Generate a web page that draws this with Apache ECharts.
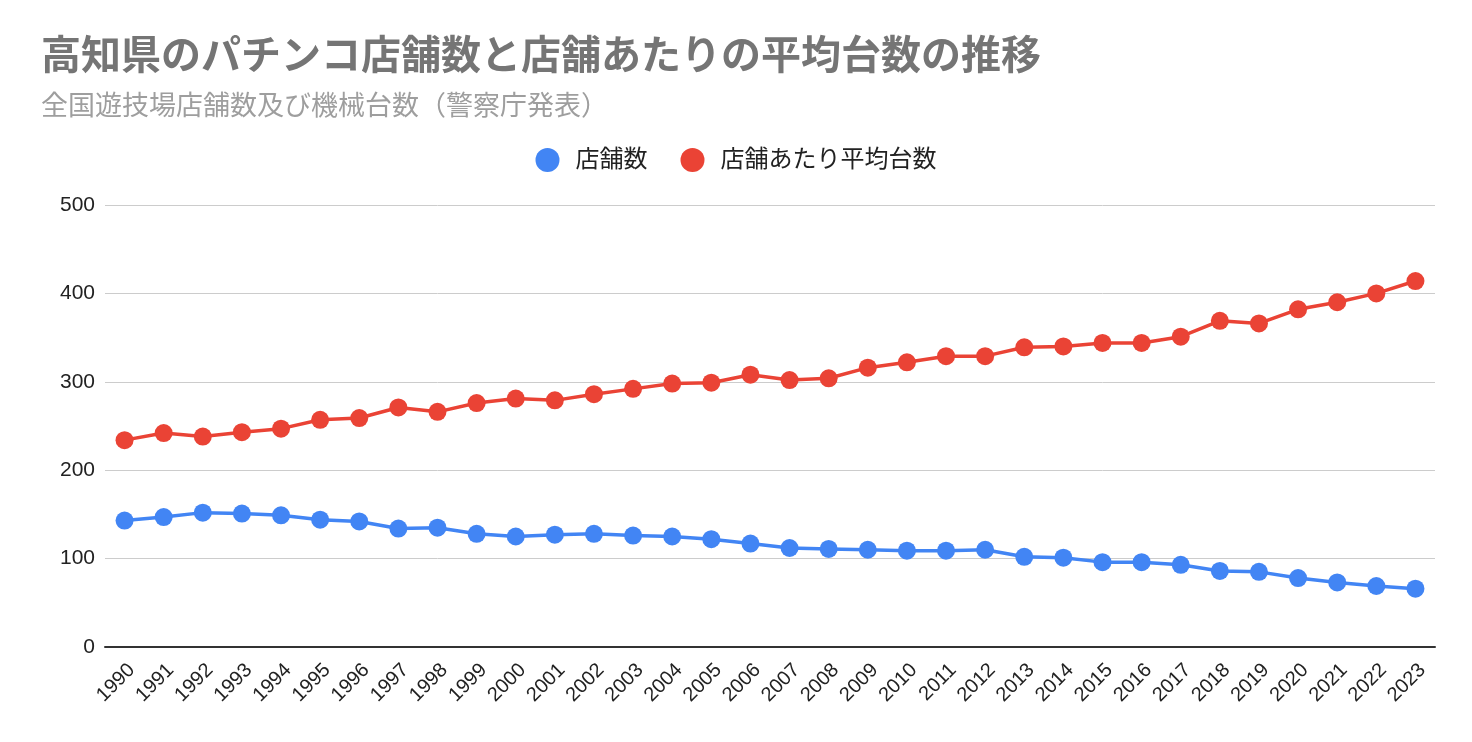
<!DOCTYPE html>
<html><head><meta charset="utf-8">
<script src="https://cdn.jsdelivr.net/npm/echarts@6/dist/echarts.min.js"></script>
<style>html,body{margin:0;padding:0;background:#fff}#c{width:1472px;height:742px}</style>
</head><body><div id="c"></div>
<script>
const years = ['1990','1991','1992','1993','1994','1995','1996','1997','1998','1999','2000','2001','2002','2003','2004','2005','2006','2007','2008','2009','2010','2011','2012','2013','2014','2015','2016','2017','2018','2019','2020','2021','2022','2023'];
const storeCount = [143,147,152,151,149,144,142,134,135,128,125,127,128,126,125,122,117,112,111,110,109,109,110,102,101,96,96,93,86,85,78,73,69,66];
const avgPerStore = [234,242,238,243,247,257,259,271,266,276,281,279,286,292,298,299,308,302,304,316,322,329,329,339,340,344,344,351,369,366,382,390,400,414];
const yTicks = [0,100,200,300,400,500];
const seriesNames = ['店舗数','店舗あたり平均台数'];
const titleText = '高知県のパチンコ店舗数と店舗あたりの平均台数の推移';
const subtitleText = '全国遊技場店舗数及び機械台数（警察庁発表）';

const fontJP = '"Liberation Sans", Arial, "Noto Sans CJK JP", sans-serif';
const fontNum = '"Liberation Sans", Arial, sans-serif';
const chart = echarts.init(document.getElementById('c'));
chart.setOption({
  animation: false,
  color: ['#4285f4','#ea4335'],
  title: {
    text: titleText, subtext: subtitleText, left: 36, top: 33, itemGap: 16,
    textStyle: {fontFamily: fontJP, fontSize: 40, fontWeight: 'bold', color: '#757575'},
    subtextStyle: {fontFamily: fontJP, fontSize: 27, color: '#9e9e9e'}
  },
  legend: {
    top: 143, left: 'center', icon: 'circle', itemWidth: 24, itemHeight: 24, itemGap: 33,
    textStyle: {fontFamily: fontJP, fontSize: 24, color: '#222', padding: [0,0,0,11]},
    data: seriesNames
  },
  grid: {left: 105, right: 37, top: 205, bottom: 95},
  xAxis: {
    type: 'category', data: years, boundaryGap: true,
    axisLine: {lineStyle: {color: '#333', width: 2}},
    axisTick: {show: false},
    axisLabel: {rotate: 45, interval: 0, fontFamily: fontNum, fontSize: 20, color: '#222', margin: 13, verticalAlign: 'top'}
  },
  yAxis: {
    type: 'value', min: yTicks[0], max: yTicks[yTicks.length-1], interval: 100,
    axisLine: {show: false}, axisTick: {show: false},
    splitLine: {lineStyle: {color: '#cccccc', width: 1}},
    axisLabel: {fontFamily: fontNum, fontSize: 21, color: '#222', margin: 10}
  },
  series: [
    {name: seriesNames[0], type: 'line', data: storeCount, symbol: 'circle', symbolSize: 18, lineStyle: {width: 3.5}},
    {name: seriesNames[1], type: 'line', data: avgPerStore, symbol: 'circle', symbolSize: 18, lineStyle: {width: 3.5}}
  ]
});
</script></body></html>
